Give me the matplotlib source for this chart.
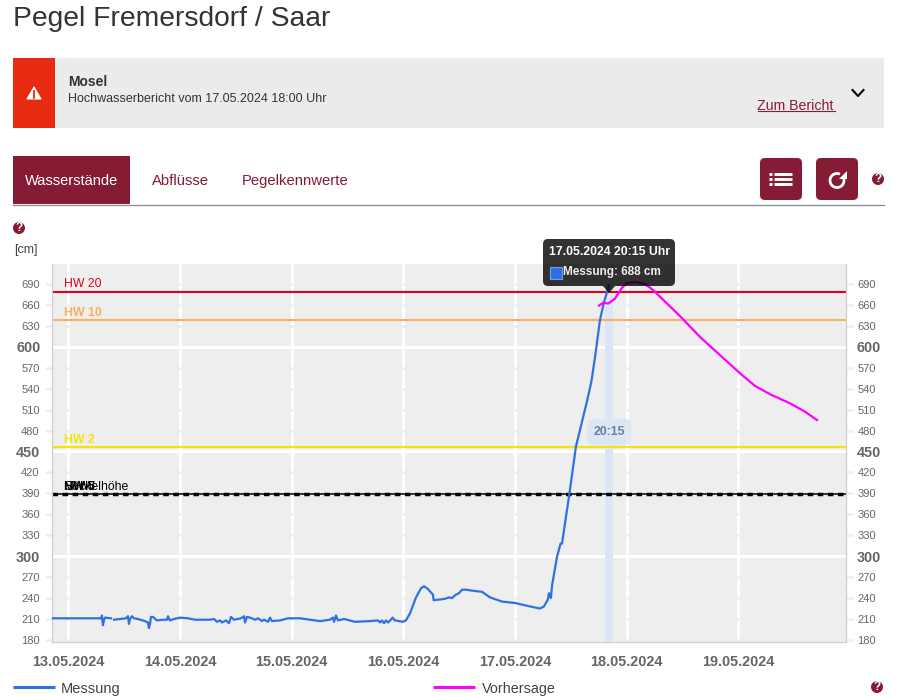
import numpy as np
import matplotlib
matplotlib.use('Agg')
import matplotlib.pyplot as plt
from matplotlib.patches import Rectangle, FancyBboxPatch, Polygon, Circle

plt.rcParams['font.family'] = ['Liberation Sans', 'DejaVu Sans']

# days since 13.05.2024 00:00, water level in cm
mess_t = [-0.157, 0.148, 0.291, 0.300, 0.309, 0.318, 0.327, 0.381, np.nan, 0.408, 0.461, 0.515, 0.533,
          0.542, 0.551, 0.569, 0.587, 0.623, 0.685, 0.712, 0.721, 0.730, 0.739, 0.757, 0.793,
          0.847, 0.883, 0.892, 0.909, 0.945, 0.999, 1.071, 1.133, 1.268, 1.304, 1.331, 1.358,
          1.375, 1.411, 1.438, 1.456, 1.483, 1.546, 1.573, 1.582, 1.599, 1.626, 1.671, 1.698,
          1.734, 1.752, 1.788, 1.806, 1.823, 1.895, 1.967, 2.074, 2.254, 2.343, 2.370, 2.379,
          2.397, 2.415, 2.469, 2.567, 2.702, 2.773, 2.791, 2.809, 2.827, 2.845, 2.863, 2.890,
          2.903, 2.926, 2.997, 3.024, 3.060, 3.114, 3.159, 3.185, 3.221, 3.248, 3.266, 3.271,
          3.329, 3.374, 3.410, 3.437, 3.463, 3.499, 3.526, 3.571, 3.598, 3.705, 3.777, 3.884,
          4.001, 4.136, 4.225, 4.260, 4.296, 4.305, 4.323, 4.332, 4.377, 4.409, 4.422, 4.487,
          4.547, 4.649, 4.685, 4.718, 4.762, 4.798, 4.825, 4.842]
mess_cm = [211, 211, 211, 215, 201, 208, 212, 211, np.nan, 209, 210, 211, 214,
           203, 210, 214, 211, 210, 207, 205, 197, 203, 213, 213, 208,
           209, 209, 214, 208, 210, 212, 211, 209, 209, 210, 206, 208,
           205, 208, 204, 213, 209, 211, 214, 205, 213, 212, 209, 211,
           207, 209, 206, 212, 207, 208, 211, 211, 207, 209, 212, 206,
           215, 208, 210, 206, 207, 208, 205, 208, 204, 208, 205, 209,
           212, 208, 206, 208, 218, 241, 254, 257, 253, 248, 245, 237,
           238, 239, 241, 240, 244, 247, 252, 252, 251, 249, 241, 235,
           233, 228, 225, 228, 238, 247, 240, 257, 299, 318, 318, 388,
           457, 524, 550, 585, 638, 664, 678, 688]

vorh_t = [4.753, 4.792, 4.837, 4.897, 4.957, 5.002, 5.076, 5.166, 5.240, 5.479, 5.659, 5.838, 6.017, 6.151, 6.286, 6.465, 6.599, 6.707]
vorh_cm = [659, 663, 662, 669, 684, 691, 693, 690, 681, 644, 614, 588, 562, 544, 532, 519, 507, 495]

marken_namen = ['HW 20', 'HW 10', 'HW 2']
marken_cm = [679, 638, 456]
marken_farben = ['#e2001a', '#f9ae62', '#f3e600']
schwarz_namen = ['MHW', 'HW 5', 'Sockelhöhe']
schwarz_cm = 389

tage = ['13.05.2024', '14.05.2024', '15.05.2024', '16.05.2024', '17.05.2024', '18.05.2024', '19.05.2024']
major_y = [300, 450, 600]
minor_y = [180, 210, 240, 270, 330, 360, 390, 420, 480, 510, 540, 570, 630, 660, 690]
tooltip_t = 4.842

W, H = 897, 697
BORDEAUX = '#851c33'
fig = plt.figure(figsize=(W / 100, H / 100), dpi=100)

# chart
ax = fig.add_axes([51.5 / W, 1 - 641.7 / H, (845.7 - 51.5) / W, (641.7 - 264) / H])
ax.set_facecolor('#eeeeee')
ax.set_xlim(-0.152, 6.964)
ax.set_ylim(177.5, 718.6)
ax.set_axisbelow(True)

ax.set_xticks(range(len(tage)))
ax.set_xticklabels(tage, fontsize=10.4, fontweight='bold', color='#666666')
ax.set_yticks(major_y)
ax.set_yticks(minor_y, minor=True)
ax.set_yticklabels([str(v) for v in major_y], fontsize=10.4, fontweight='bold', color='#666666')
ax.set_yticklabels([str(v) for v in minor_y], minor=True, fontsize=8, color='#666666')
ax.tick_params(axis='x', length=0, pad=9.5)
ax.tick_params(axis='y', which='major', length=0, pad=8, labelleft=True, labelright=True)
ax.tick_params(axis='y', which='minor', length=5, width=1.8, color='#eeeeee', pad=3.5, left=True, right=True,
               labelleft=True, labelright=True)
ax.grid(True, axis='x', color='white', lw=2.2)
ax.grid(True, axis='y', which='major', color='white', lw=2.2)
ax.grid(True, axis='y', which='minor', color='#eeeeee', lw=1.8)
ax.spines['top'].set_visible(False)
for s in ['left', 'right', 'bottom']:
    ax.spines[s].set_color('#cfcfcf')
    ax.spines[s].set_linewidth(0.9)

# highlighted time
ax.axvspan(tooltip_t - 0.036, tooltip_t + 0.036, color='#dbe6f6', lw=0, zorder=1.5)

for name, cm, farbe in zip(marken_namen, marken_cm, marken_farben):
    ax.axhline(cm, color=farbe, lw=1.5, zorder=2)
    ax.annotate(name, xy=(0, cm), xycoords=('axes fraction', 'data'), xytext=(9.2, 1.1),
                textcoords='offset points', color=farbe, fontsize=8.8, va='bottom',
                fontweight='bold' if name != 'HW 20' else 'normal')

ax.axhline(schwarz_cm, color='black', lw=1.1, zorder=2)
ax.axhline(schwarz_cm, color='black', lw=2.5, dashes=(1.6, 1.3), zorder=2)
for name in schwarz_namen:
    ax.annotate(name, xy=(0, schwarz_cm), xycoords=('axes fraction', 'data'), xytext=(9.2, 1.1),
                textcoords='offset points', color='black', fontsize=8.8, va='bottom',
                fontweight='bold' if name == 'HW 5' else 'normal')

ax.plot(mess_t, mess_cm, color='#2f72de', lw=1.6, zorder=3, solid_joinstyle='round')
ax.plot(vorh_t, vorh_cm, color='#ff00ff', lw=1.6, zorder=3, solid_joinstyle='round')

# page around the chart, in pixels
ov = fig.add_axes([0, 0, 1, 1], zorder=5)
ov.set_xlim(0, W)
ov.set_ylim(H, 0)
ov.axis('off')
ov.patch.set_alpha(0)


def box(x0, y0, x1, y1, color, r=0, alpha=None, zorder=2):
    if r:
        p = FancyBboxPatch((x0 + r, y0 + r), x1 - x0 - 2 * r, y1 - y0 - 2 * r, boxstyle='round,pad=%s,rounding_size=%s' % (r, r),
                           fc=color, ec='none', alpha=alpha, zorder=zorder)
    else:
        p = Rectangle((x0, y0), x1 - x0, y1 - y0, fc=color, ec='none', alpha=alpha, zorder=zorder)
    ov.add_patch(p)


def hilfe(x, y):
    ov.add_patch(Circle((x, y), 6, fc=BORDEAUX, ec='none', zorder=3))
    ov.text(x, y + 0.3, '?', color='white', fontsize=8.5, fontweight='bold', ha='center', va='center', zorder=4)


ov.text(13, 18.5, 'Pegel Fremersdorf / Saar', fontsize=20.3, color='#333333', va='center')

# report box
box(13, 58, 884, 128, '#ebebeb')
box(13, 58, 55, 128, '#e62b12', zorder=3)
ov.add_patch(Polygon([[34, 87], [41, 99], [27, 99]], closed=True, fc='white', ec='white', lw=0.8, joinstyle='round', zorder=4))
ov.plot([34, 34], [90.5, 94.5], color='#e62b12', lw=1.3, zorder=5)
ov.plot([34, 34], [96, 97.5], color='#e62b12', lw=1.3, zorder=5)
ov.text(68.5, 81.5, 'Mosel', fontsize=10, fontweight='bold', color='#333333', va='center')
ov.text(68.5, 98.5, 'Hochwasserbericht vom 17.05.2024 18:00 Uhr', fontsize=9, color='#333333', va='center')
ov.text(757, 105.5, 'Zum Bericht', fontsize=10.2, color=BORDEAUX, va='center')
ov.plot([757.5, 834.5], [110.5, 110.5], color=BORDEAUX, lw=0.8)
ov.plot([852.5, 858, 863.5], [90, 96, 90], color='black', lw=1.5)

# tabs
box(13, 156, 130, 204, BORDEAUX)
ov.plot([13, 884], [204.5, 204.5], color='#888888', lw=0.9)
ov.text(71.5, 181, 'Wasserstände', fontsize=10.55, color='white', ha='center', va='center', zorder=3)
ov.text(152, 181, 'Abflüsse', fontsize=10.7, color=BORDEAUX, va='center')
ov.text(242, 181, 'Pegelkennwerte', fontsize=10.7, color=BORDEAUX, va='center')

# buttons
box(760, 158, 802, 200, BORDEAUX, r=5)
box(816, 158, 858, 200, BORDEAUX, r=5)
for y in [173.5, 178.5, 184]:
    ov.plot([769, 772], [y, y], color='white', lw=2.1, solid_capstyle='butt', zorder=4)
    ov.plot([774, 792], [y, y], color='white', lw=2.1, solid_capstyle='butt', zorder=4)
phi = np.radians(np.linspace(-25, 295, 50))
ov.plot(837 + 7 * np.cos(phi), 180.5 + 7 * np.sin(phi), color='white', lw=2, solid_capstyle='butt', zorder=4)
ov.add_patch(Polygon([[846.5, 171], [846.5, 179], [838.5, 179]], closed=True, fc='white', ec='none', zorder=4))

hilfe(878, 179)
hilfe(19, 228)
hilfe(877, 687)
ov.text(14, 249.5, '[cm]', fontsize=9, color='#444444', va='center')

# tooltip
box(543, 239, 675, 286, 'black', r=5, alpha=0.8, zorder=6)
ov.add_patch(Polygon([[603, 286], [615, 286], [609, 293]], closed=True, fc='black', ec='none', alpha=0.8, zorder=6))
ov.text(549, 252, '17.05.2024 20:15 Uhr', fontsize=8.85, fontweight='bold', color='white', va='center', zorder=7)
ov.add_patch(Rectangle((549.5, 266.5), 12, 12, fc='#2f6fe0', ec='#6f9eea', lw=0.8, zorder=7))
ov.text(563, 272.5, 'Messung: 688 cm', fontsize=8.45, fontweight='bold', color='#eeeeee', va='center', zorder=7)

# label of the highlighted time
box(587, 419, 631, 445, '#dbe6f6', r=5, alpha=0.85, zorder=1)
ov.text(609, 432, '20:15', fontsize=8.8, fontweight='bold', color='#6b7f99', ha='center', va='center', zorder=3)

# legend
ov.plot([13, 55], [687, 687], color='#2f72de', lw=2.2, solid_capstyle='butt')
ov.text(61, 688.5, 'Messung', fontsize=10.5, color='#444444', va='center')
ov.plot([433, 475], [687, 687], color='#ff00ff', lw=2.2, solid_capstyle='butt')
ov.text(482, 688.5, 'Vorhersage', fontsize=10.4, color='#444444', va='center')

fig.savefig('out.png', dpi=100)
